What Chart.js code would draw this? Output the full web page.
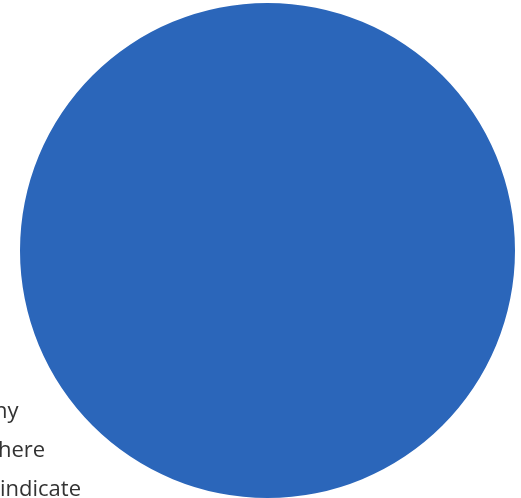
<!DOCTYPE html>
<html>
<head>
<meta charset="utf-8">
<script src="https://cdn.jsdelivr.net/npm/chart.js@4/dist/chart.umd.min.js"></script>
<style>
  html, body { margin: 0; padding: 0; background: #ffffff; overflow: hidden; }
  #wrap { position: relative; width: 521px; height: 498px; overflow: hidden; }
  canvas { position: absolute; left: 0; top: 0; }
  .frag { position: absolute; font-family: "Open Sans", "Noto Sans", sans-serif;
          font-size: 22px; color: #333333; line-height: 1; white-space: nowrap; }
</style>
</head>
<body>
<div id="wrap">
  <canvas id="c" width="521" height="498"></canvas>
  <div class="frag" id="t0"></div>
  <div class="frag" id="t1"></div>
  <div class="frag" id="t2"></div>
</div>
<script>
const categories = ['Wafer'];
const values = [100];
const sliceColors = ['#2b66ba'];
const textFragments = ['ny', 'here', 'indicate'];

const tops = [398, 437, 476];
const lefts = [-6, -2, 0];
textFragments.forEach((t, i) => {
  const el = document.getElementById('t' + i);
  el.textContent = t;
  el.style.top = tops[i] + 'px';
  el.style.left = lefts[i] + 'px';
});

new Chart(document.getElementById('c'), {
  type: 'pie',
  data: {
    labels: categories,
    datasets: [{
      data: values,
      backgroundColor: sliceColors,
      borderWidth: 0
    }]
  },
  options: {
    responsive: false,
    animation: false,
    layout: { padding: { left: 14, right: 0, top: 3, bottom: 0 } },
    plugins: { legend: { display: false }, tooltip: { enabled: false } }
  }
});
</script>
</body>
</html>
